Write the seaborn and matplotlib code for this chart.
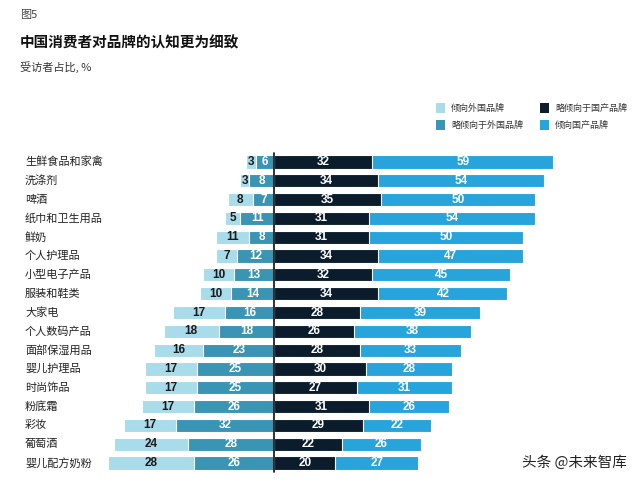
import matplotlib
matplotlib.use("Agg")
import matplotlib.pyplot as plt
import seaborn as sns
import pandas as pd
import numpy as np
from matplotlib.patches import Rectangle

sns.set_theme(style="white")
plt.rcParams['font.family'] = ['Noto Sans CJK SC', 'DejaVu Sans']

categories = ["生鲜食品和家禽", "洗涤剂", "啤酒", "纸巾和卫生用品", "鲜奶", "个人护理品",
              "小型电子产品", "服装和鞋类", "大家电", "个人数码产品", "面部保湿用品",
              "婴儿护理品", "时尚饰品", "粉底霜", "彩妆", "葡萄酒", "婴儿配方奶粉"]
foreign = [3, 3, 8, 5, 11, 7, 10, 10, 17, 18, 16, 17, 17, 17, 17, 24, 28]
slight_foreign = [6, 8, 7, 11, 8, 12, 13, 14, 16, 18, 23, 25, 25, 26, 32, 28, 26]
slight_domestic = [32, 34, 35, 31, 31, 34, 32, 34, 28, 26, 28, 30, 27, 31, 29, 22, 20]
domestic = [59, 54, 50, 54, 50, 47, 45, 42, 39, 38, 33, 28, 31, 26, 22, 26, 27]

legend_labels = ["倾向外国品牌", "略倾向于国产品牌", "略倾向于外国品牌", "倾向国产品牌"]

c_light = "#a9dcea"
c_mid = "#3a94b4"
c_dark = "#0b1d2d"
c_bright = "#28a4dc"

df = pd.DataFrame({
    "cat": categories,
    "f": foreign, "sf": slight_foreign, "sd": slight_domestic, "d": domestic,
})
df["left_total"] = -(df["f"] + df["sf"])
df["left_mid"] = -df["sf"]
df["right_total"] = df["sd"] + df["d"]
df["right_dark"] = df["sd"]

fig = plt.figure(figsize=(6.4, 4.83), dpi=100)
fig.patch.set_facecolor("white")
ax = fig.add_axes([100/640, 8/483, 520/640, 325/483])

kw = dict(y="cat", orient="h", width=0.7, edgecolor="white", linewidth=0.8, ax=ax, saturation=1)
sns.barplot(data=df, x="left_total", color=c_light, **kw)
sns.barplot(data=df, x="left_mid", color=c_mid, **kw)
sns.barplot(data=df, x="right_total", color=c_bright, **kw)
sns.barplot(data=df, x="right_dark", color=c_dark, **kw)

ax.set_xlim(-56.7, 112.7)
ax.set_ylim(16.64, -0.64)
ax.axvline(0, ymin=(16.64-16.5)/17.28, ymax=(16.64+0.5)/17.28, color="#222222", lw=1.3)
for s in ax.spines.values():
    s.set_visible(False)
ax.set_xticks([]); ax.set_yticks([])
ax.set_xlabel(""); ax.set_ylabel("")
ax.set_facecolor("none")

num_font = dict(family=["Liberation Sans", "DejaVu Sans"], fontweight="bold", fontsize=8.5,
                ha="center", va="center")
for i, row in df.iterrows():
    ax.text(-(row["sf"] + row["f"] / 2), i, str(row["f"]), color="#1a1a1a", **num_font)
    ax.text(-row["sf"] / 2, i, str(row["sf"]), color="white", **num_font)
    ax.text(row["sd"] / 2, i, str(row["sd"]), color="white", **num_font)
    ax.text(row["sd"] + row["d"] / 2, i, str(row["d"]), color="white", **num_font)

trans = matplotlib.transforms.blended_transform_factory(fig.transFigure, ax.transData)
for i, c in enumerate(categories):
    ax.text(25/640, i, c, transform=trans, ha="left", va="center", fontsize=8, color="#222222")

# header texts
fig.text(20/640, 1 - 15/483, "图5", fontsize=8, color="#444444", va="center", ha="left")
fig.text(20/640, 1 - 42/483, "中国消费者对品牌的认知更为细致", fontsize=10.5, fontweight="bold",
         color="#111111", va="center", ha="left")
fig.text(20/640, 1 - 67/483, "受访者占比, %", fontsize=8, color="#333333", va="center", ha="left")

# legend
leg_items = [(436, 108, c_light, legend_labels[0]), (540, 108, c_dark, legend_labels[1]),
             (436, 125, c_mid, legend_labels[2]), (540, 125, c_bright, legend_labels[3])]
for x, y, col, lab in leg_items:
    fig.patches.append(Rectangle((x/640, 1 - (y + 5)/483), 9/640, 10/483,
                                 transform=fig.transFigure, facecolor=col, edgecolor="none"))
    fig.text((x + 15)/640, 1 - y/483, lab, fontsize=6.5, color="#333333", va="center", ha="left")

fig.text(627/640, 1 - 463/483, "头条 @未来智库", fontsize=10.5, color="#222222", va="center", ha="right")

fig.savefig("out.png", dpi=100, facecolor="white")
